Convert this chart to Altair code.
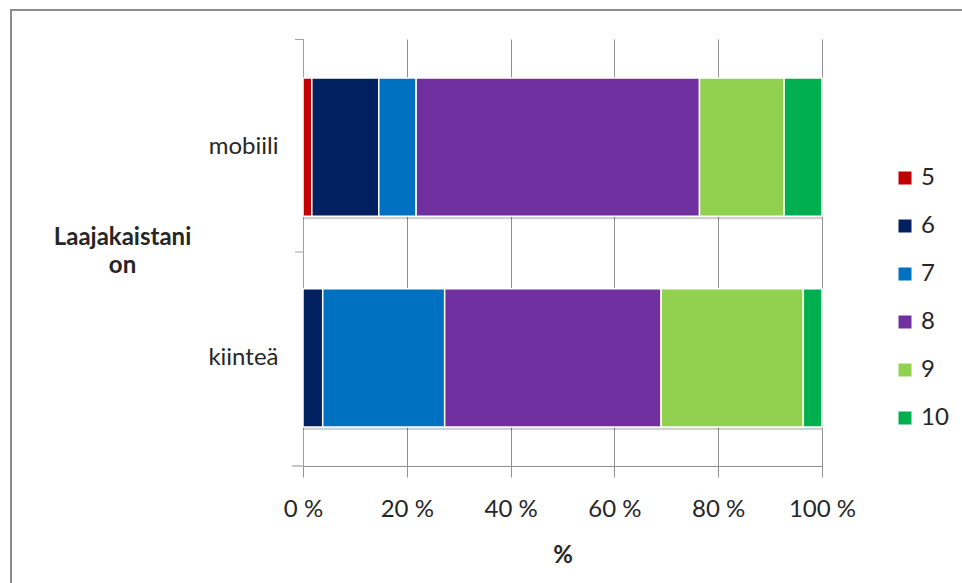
import altair as alt
import pandas as pd

categories = ["mobiili", "kiinteä"]
ratings = ["5", "6", "7", "8", "9", "10"]
colors = ["#C00000", "#002060", "#0070C0", "#7030A0", "#92D050", "#00B050"]
mobiili = [1.7, 12.9, 7.2, 54.6, 16.3, 7.3]
kiintea = [0.0, 3.8, 23.5, 41.7, 27.4, 3.6]
x_ticks = [0, 20, 40, 60, 80, 100]

rows = []
for cat, vals in zip(categories, [mobiili, kiintea]):
    for i, (r, v) in enumerate(zip(ratings, vals)):
        if v > 0:
            rows.append({"cat": cat, "rating": r, "idx": i, "value": v})
df = pd.DataFrame(rows)

FONT = "Lato"
TXT = "#262626"
W, H = 519, 427
FS = 24

yenc = alt.Y(
    "cat:N",
    sort=categories,
    scale=alt.Scale(paddingInner=0.343, paddingOuter=0.185),
    axis=alt.Axis(
        title=["Laajakaistani", "on"],
        titleAngle=0,
        titleFont=FONT,
        titleFontSize=FS,
        titleFontWeight="bold",
        titleColor=TXT,
        titleAlign="center",
        titleBaseline="top",
        titleLineHeight=28,
        titleX=-181,
        titleY=186,
        labelFont=FONT,
        labelFontSize=FS,
        labelColor=TXT,
        labelPadding=25,
        ticks=False,
        domainColor="#a0a0a0",
        grid=False,
    ),
)

xenc = alt.X(
    "value:Q",
    stack="zero",
    scale=alt.Scale(domain=[0, 100], nice=False),
    axis=alt.Axis(
        values=x_ticks,
        labelExpr="datum.value + ' %'",
        labelFlush=False,
        title="%",
        titleFont=FONT,
        titleFontSize=FS,
        titleFontWeight="bold",
        titleColor=TXT,
        titleBaseline="alphabetic",
        titleY=96,
        labelFont=FONT,
        labelFontSize=FS,
        labelColor=TXT,
        labelPadding=20,
        tickSize=11,
        tickColor="#909090",
        domainColor="#909090",
        grid=True,
        gridColor="#909090",
        gridWidth=1,
    ),
)

shadow = alt.Chart(df).mark_bar(color="#000000", opacity=0.18, yOffset=3).encode(
    x=alt.X("sum(value):Q", scale=alt.Scale(domain=[0, 100], nice=False)),
    y=alt.Y("cat:N", sort=categories),
)

bars = alt.Chart(df).mark_bar(stroke="white", strokeWidth=1.5).encode(
    x=xenc,
    y=yenc,
    color=alt.Color(
        "rating:N",
        sort=ratings,
        scale=alt.Scale(domain=ratings, range=colors),
        legend=alt.Legend(
            title=None,
            orient="none",
            legendX=590,
            legendY=127,
            symbolType="square",
            symbolSize=169,
            symbolStrokeWidth=0,
            labelFont=FONT,
            labelFontSize=FS,
            labelColor=TXT,
            labelOffset=4,
            rowPadding=24,
        ),
    ),
    order=alt.Order("idx:Q", sort="ascending"),
)

one = alt.Data(values=[{"a": 1}])
axis_ext = alt.Chart(one).mark_rule(color="#909090", strokeWidth=1).encode(
    x=alt.value(-11), x2=alt.value(0), y=alt.value(H)
)
ytick_top = alt.Chart(one).mark_rule(color="#a0a0a0", strokeWidth=1).encode(
    x=alt.value(-8), x2=alt.value(0), y=alt.value(0.5)
)
ytick_mid = alt.Chart(one).mark_rule(color="#a0a0a0", strokeWidth=1).encode(
    x=alt.value(-8), x2=alt.value(0), y=alt.value(213)
)
border_top = alt.Chart(one).mark_rule(color="#8c8c8c", strokeWidth=2).encode(
    x=alt.value(-292), x2=alt.value(800), y=alt.value(-29)
)
border_left = alt.Chart(one).mark_rule(color="#8c8c8c", strokeWidth=2).encode(
    x=alt.value(-292), y=alt.value(-30), y2=alt.value(700)
)

chart = (
    alt.layer(shadow, bars, axis_ext, ytick_top, ytick_mid, border_top, border_left)
    .properties(
        width=W,
        height=H,
        autosize=alt.AutoSizeParams(type="none"),
        padding={"left": 303, "top": 39, "right": 962 - 303 - W, "bottom": 583 - 39 - H},
        background="white",
    )
    .configure_view(stroke=None)
)

chart.save("out.html", embed_options={"renderer": "svg", "actions": False})
